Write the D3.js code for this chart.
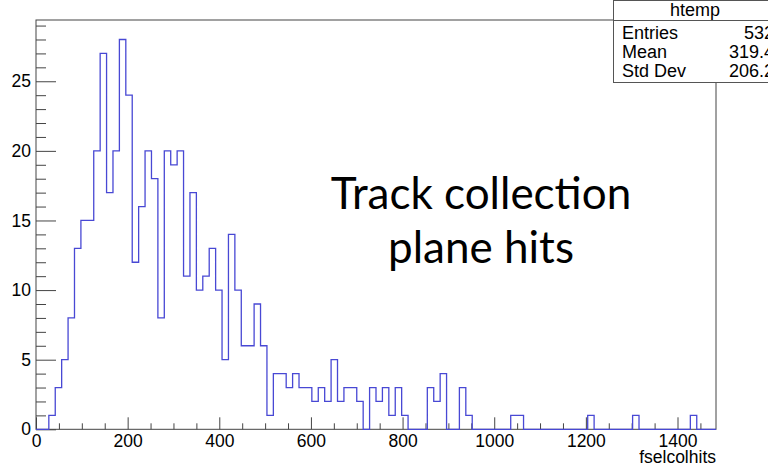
<!DOCTYPE html>
<html>
<head>
<meta charset="utf-8">
<script src="https://cdn.jsdelivr.net/npm/d3@7"></script>
<style>
  html, body { margin: 0; padding: 0; background: #fff; }
  svg { display: block; }
  .axis text { font-family: "Liberation Sans", Arial, sans-serif; font-size: 17.5px; fill: #000; }
  .axis line { stroke: #444; }
</style>
</head>
<body>
<svg id="chart" width="768" height="467"></svg>
<script>
// Histogram binning: 106 bins of width 14 starting at 0
const xMin = 0;
const binWidth = 14;
const binCounts = [
  0, 0, 1, 3, 5, 8, 13, 15, 15, 20,
  27, 17, 20, 28, 24, 12, 16, 20, 18, 8,
  20, 19, 20, 11, 17, 10, 11, 13, 10, 5,
  14, 10, 6, 6, 9, 6, 1, 4, 4, 3,
  4, 3, 3, 2, 3, 2, 5, 2, 3, 3,
  2, 0, 3, 2, 3, 1, 3, 1, 0, 0,
  0, 3, 2, 4, 0, 0, 3, 1, 0, 0,
  0, 0, 0, 0, 1, 1, 0, 0, 0, 0,
  0, 0, 0, 0, 0, 0, 1, 0, 0, 0,
  0, 0, 0, 1, 0, 0, 0, 0, 0, 0,
  0, 0, 1, 0, 0, 0
];
const yMax = 29.4;

// Axis ticks and labels
const xMajorTicks = [0, 200, 400, 600, 800, 1000, 1200, 1400];
const xMinorTicks = [50, 100, 150, 250, 300, 350, 450, 500, 550, 650, 700, 750, 850, 900, 950,
                     1050, 1100, 1150, 1250, 1300, 1350, 1450];
const yMajorTicks = [0, 5, 10, 15, 20, 25];
const yMinorTicks = [1, 2, 3, 4, 6, 7, 8, 9, 11, 12, 13, 14, 16, 17, 18, 19, 21, 22, 23, 24, 26, 27, 28, 29];
const xTitle = "fselcolhits";

// Statistics box contents
const statsTitle = "htemp";
const statsLabels = ["Entries", "Mean", "Std Dev"];
const statsValues = ["532", "319.4", "206.2"];

// Annotation text
const noteLines = ["Track collection", "plane hits"];

const svg = d3.select("#chart");
const frame = { left: 36, right: 716, top: 20, bottom: 429.3 };
const xMax = xMin + binWidth * binCounts.length;

const x = d3.scaleLinear().domain([xMin, xMax]).range([frame.left, frame.right]);
const y = d3.scaleLinear().domain([0, yMax]).range([frame.bottom, frame.top]);

const sans = "'Liberation Sans', Arial, sans-serif";

// Frame
svg.append("rect")
  .attr("x", frame.left).attr("y", frame.top)
  .attr("width", frame.right - frame.left).attr("height", frame.bottom - frame.top)
  .attr("fill", "none").attr("stroke", "#444").attr("stroke-width", 1);

// X axis: major ticks with labels, minor ticks without
const xAxisMajor = d3.axisBottom(x).tickValues(xMajorTicks).tickSizeInner(-12).tickSizeOuter(0)
  .tickPadding(5).tickFormat(d3.format("d"));
const xAxisMinor = d3.axisBottom(x).tickValues(xMinorTicks).tickSizeInner(-6).tickSizeOuter(0)
  .tickFormat("");
svg.append("g").attr("class", "axis").attr("transform", `translate(0,${frame.bottom})`).call(xAxisMajor)
  .call(g => g.select(".domain").remove());
svg.append("g").attr("class", "axis").attr("transform", `translate(0,${frame.bottom})`).call(xAxisMinor)
  .call(g => g.select(".domain").remove());

// Y axis
const yAxisMajor = d3.axisLeft(y).tickValues(yMajorTicks).tickSizeInner(-20).tickSizeOuter(0)
  .tickPadding(5).tickFormat(d3.format("d"));
const yAxisMinor = d3.axisLeft(y).tickValues(yMinorTicks).tickSizeInner(-10).tickSizeOuter(0)
  .tickFormat("");
svg.append("g").attr("class", "axis").attr("transform", `translate(${frame.left},0)`).call(yAxisMajor)
  .call(g => g.select(".domain").remove());
svg.append("g").attr("class", "axis").attr("transform", `translate(${frame.left},0)`).call(yAxisMinor)
  .call(g => g.select(".domain").remove());

// X axis title
svg.append("text")
  .attr("x", frame.right).attr("y", 463)
  .attr("text-anchor", "end")
  .style("font-family", sans)
  .style("font-size", "17.5px")
  .text(xTitle);

// Histogram outline as a step line
const stepPoints = binCounts.map((c, i) => [xMin + i * binWidth, c]);
stepPoints.push([xMax, binCounts[binCounts.length - 1]]);
const step = d3.line()
  .x(d => x(d[0]))
  .y(d => y(d[1]))
  .curve(d3.curveStepAfter);
svg.append("path")
  .datum([[xMin, 0]].concat(stepPoints).concat([[xMax, 0]]))
  .attr("d", step)
  .attr("fill", "none")
  .attr("stroke", "#4848d4")
  .attr("stroke-width", 1.3);

// Annotation
svg.append("g")
  .selectAll("text")
  .data(noteLines)
  .join("text")
  .attr("x", 481)
  .attr("y", (d, i) => 209 + i * 54)
  .attr("text-anchor", "middle")
  .style("font-family", "Lato, 'Open Sans', sans-serif")
  .style("font-size", "44px")
  .style("fill", "#000")
  .text(d => d);

// Statistics box
const stats = svg.append("g").attr("class", "stats");
const box = { x: 613.5, y: 0.5, w: 170, h: 82 };
stats.append("rect")
  .attr("x", box.x).attr("y", box.y).attr("width", box.w).attr("height", box.h)
  .attr("fill", "#fff").attr("stroke", "#555").attr("stroke-width", 1);
stats.append("line")
  .attr("x1", box.x).attr("x2", box.x + box.w)
  .attr("y1", 20.5).attr("y2", 20.5)
  .attr("stroke", "#555");
stats.append("text")
  .attr("x", 695).attr("y", 15.5)
  .attr("text-anchor", "middle")
  .style("font-family", sans)
  .style("font-size", "18px")
  .text(statsTitle);
stats.selectAll("text.lab")
  .data(statsLabels)
  .join("text")
  .attr("class", "lab")
  .attr("x", 622)
  .attr("y", (d, i) => 39 + i * 19)
  .style("font-family", sans)
  .style("font-size", "18px")
  .text(d => d);
stats.selectAll("text.val")
  .data(statsValues)
  .join("text")
  .attr("class", "val")
  .attr("x", 774)
  .attr("y", (d, i) => 39 + i * 19)
  .attr("text-anchor", "end")
  .style("font-family", sans)
  .style("font-size", "18px")
  .text(d => d);
</script>
</body>
</html>
